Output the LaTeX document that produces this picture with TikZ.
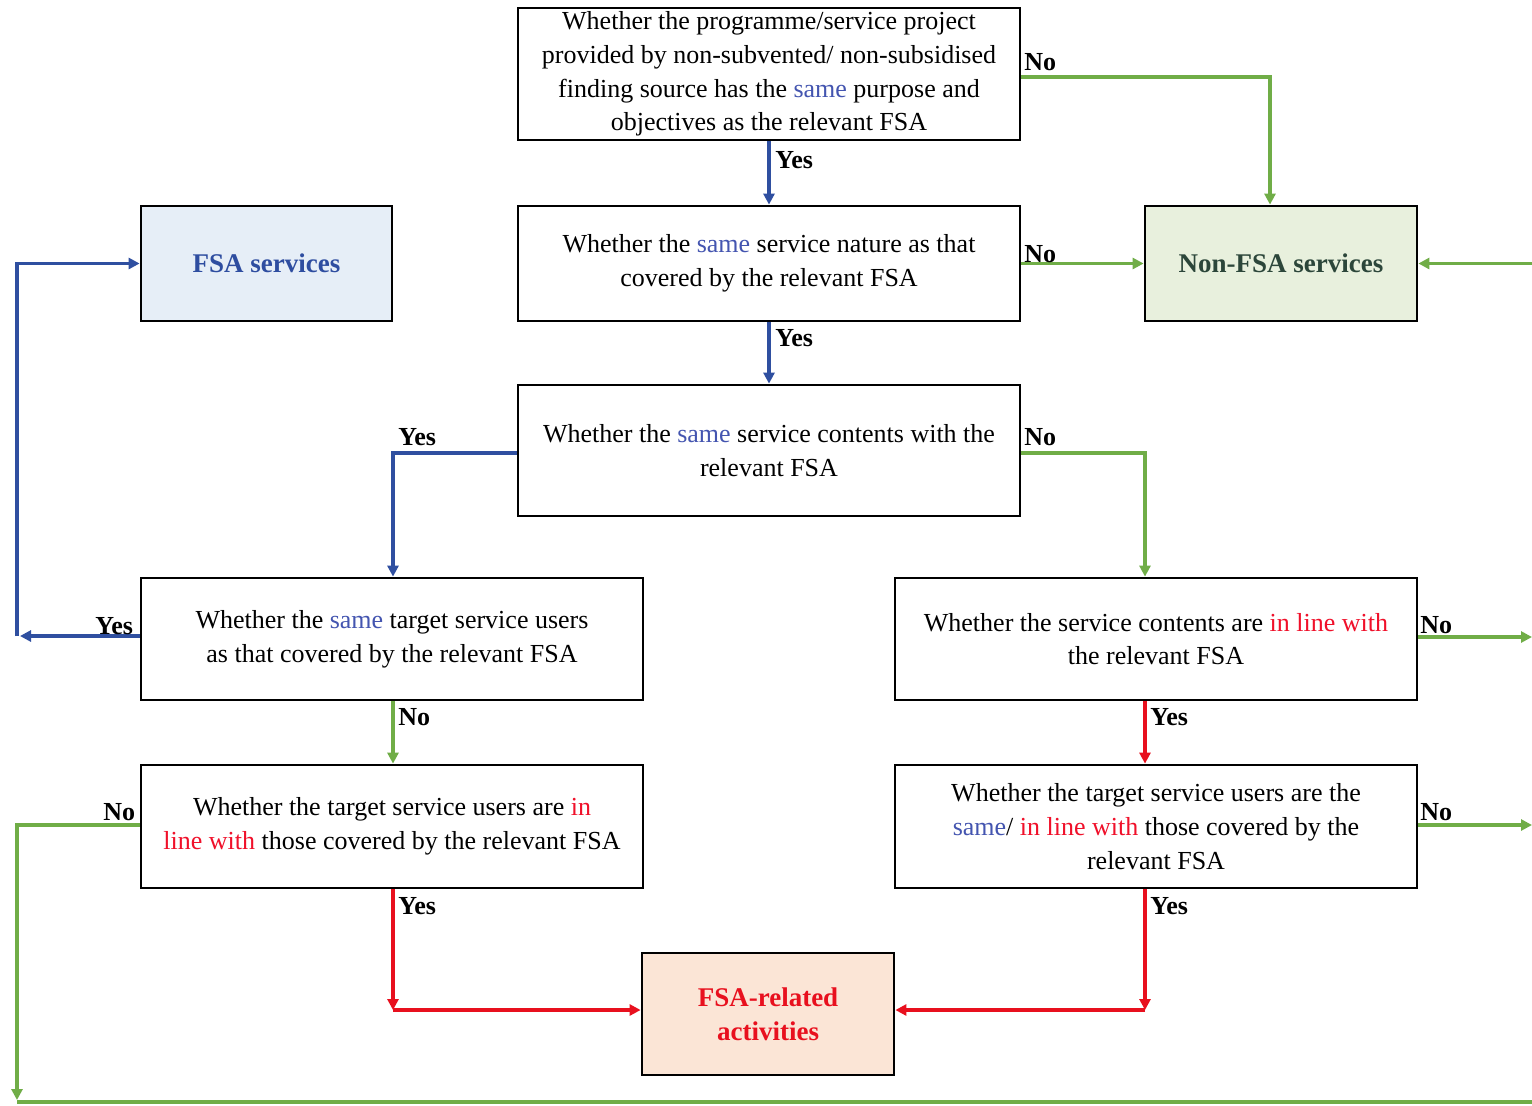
\documentclass[tikz,border=0pt]{standalone}
\usepackage{fontspec}
\setmainfont{Liberation Serif}
\usetikzlibrary{arrows.meta,calc}
\definecolor{lnblue}{HTML}{2F4FA0}
\definecolor{lngreen}{HTML}{70AD47}
\definecolor{lnred}{HTML}{E8101E}
\definecolor{txblue}{HTML}{4455B0}
\definecolor{txred}{HTML}{F0102A}
\definecolor{fsafill}{HTML}{E6EEF7}
\definecolor{fsatext}{HTML}{2E4DA0}
\definecolor{nonfill}{HTML}{E8F0DD}
\definecolor{nontext}{HTML}{2C463A}
\definecolor{relfill}{HTML}{FBE5D6}
\newcommand{\sm}[1]{\textcolor{txblue}{#1}}
\newcommand{\il}[1]{\textcolor{txred}{#1}}
\begin{document}
\begin{tikzpicture}[x=0.5pt,y=-0.5pt,
  qbox/.style={draw=black,line width=1.4pt,align=center,inner sep=2pt,
    font=\fontsize{13}{16.8}\selectfont},
  endbox/.style={qbox,font=\fontsize{13.5}{17}\selectfont\bfseries},
  conn/.style={line width=1.6pt,-{Triangle[length=5.5pt,width=5.5pt]}},
  plain/.style={line width=1.6pt},
  lab/.style={font=\fontsize{13}{14}\selectfont\bfseries,inner sep=0pt,anchor=west}]
\useasboundingbox (0,0) rectangle (1532,1105);
\fill[white] (0,0) rectangle (1532,1105);
% boxes
\node[qbox,minimum width=251pt,minimum height=66pt,inner sep=1pt] (b1) at (769,74)
  {Whether the programme/service project\\ provided by non-subvented/ non-subsidised\\ finding source has the \sm{same} purpose and\\ objectives as the relevant FSA};
\node[qbox,minimum width=251pt,minimum height=57.5pt] (b2) at (769,263.5)
  {Whether the \sm{same} service nature as that\\ covered by the relevant FSA};
\node[qbox,minimum width=251pt,minimum height=65.5pt] (b3) at (769,450.5)
  {Whether the \sm{same} service contents with the\\ relevant FSA};
\node[endbox,fill=fsafill,text=fsatext,minimum width=125.5pt,minimum height=57.5pt] (fsa) at (266.5,263.5)
  {FSA services};
\node[endbox,fill=nonfill,text=nontext,minimum width=136pt,minimum height=57.5pt] (non) at (1281,263.5)
  {Non-FSA services};
\node[qbox,minimum width=251pt,minimum height=61pt] (b4) at (392,639)
  {Whether the \sm{same} target service users\\ as that covered by the relevant FSA};
\node[qbox,minimum width=261pt,minimum height=61pt] (b5) at (1156,639)
  {Whether the service contents are \il{in line with}\\ the relevant FSA};
\node[qbox,minimum width=251pt,minimum height=61.5pt] (b6) at (392,826.5)
  {Whether the target service users are \il{in}\\ \il{line with} those covered by the relevant FSA};
\node[qbox,minimum width=261pt,minimum height=61.5pt] (b7) at (1156,826.5)
  {Whether the target service users are the\\ \sm{same}/ \il{in line with} those covered by the\\ relevant FSA};
\node[endbox,fill=relfill,text=lnred,minimum width=126pt,minimum height=61pt] (rel) at (768,1014)
  {FSA-related\\ activities};
% coordinates
\coordinate (c1r) at (1270,77);
\coordinate (c3l) at (393,453);
\coordinate (c3r) at (1145,453);
\coordinate (c4l) at (20,636);
\coordinate (c4v) at (17,636);
\coordinate (e5) at (1532,637);
\coordinate (e7) at (1532,825);
\coordinate (en) at (1532,265);
\coordinate (c6l) at (17,825);
\coordinate (c6b) at (17,1100);
\coordinate (bl) at (17,1102);
\coordinate (br) at (1532,1102);
\coordinate (d6) at (393,1010);
\coordinate (d7) at (1145,1010);
% connectors
\draw[conn,lnblue] (b1.south) -- (b2.north);
\draw[conn,lnblue] (b2.south) -- (b3.north);
\draw[conn,lngreen] (b1.east |- c1r) -- (c1r) -- (c1r |- non.north);
\draw[conn,lngreen] (b2.east |- non.west) -- (non.west);
\draw[conn,lngreen] (en |- non.east) -- (non.east);
\draw[conn,lnblue] (b3.west |- c3l) -- (c3l) -- (c3l |- b4.north);
\draw[conn,lngreen] (b3.east |- c3r) -- (c3r) -- (c3r |- b5.north);
\draw[conn,lnblue] (b4.west |- c4l) -- (c4l);
\draw[conn,lnblue] (c4v) |- (fsa.west);
\draw[conn,lngreen] (b4.south -| c3l) -- (b6.north -| c3l);
\draw[conn,lnred] (b5.south -| c3r) -- (b7.north -| c3r);
\draw[conn,lngreen] (b5.east |- e5) -- (e5);
\draw[conn,lngreen] (b7.east |- e7) -- (e7);
\draw[conn,lngreen] (b6.west |- c6l) -- (c6l) -- (c6b);
\draw[plain,lngreen] (bl) -- (br);
\draw[conn,lnred] (b6.south -| d6) -- (d6);
\draw[conn,lnred] (d6) -- (rel.west |- d6);
\draw[conn,lnred] (b7.south -| d7) -- (d7);
\draw[conn,lnred] (d7) -- (rel.east |- d7);
% labels
\node[lab] (l1) at (775,160) {Yes};
\node[lab] (l2) at (1024,62) {No};
\node[lab] (l3) at (1024,254) {No};
\node[lab] (l4) at (775,338) {Yes};
\node[lab] (l5) at (398,437) {Yes};
\node[lab] (l6) at (1024,437) {No};
\node[lab] (l7) at (95,626) {Yes};
\node[lab] (l8) at (398,717) {No};
\node[lab] (l9) at (1150,717) {Yes};
\node[lab] (l10) at (1420,625) {No};
\node[lab] (l11) at (103,812) {No};
\node[lab] (l12) at (1420,812) {No};
\node[lab] (l13) at (398,906) {Yes};
\node[lab] (l14) at (1150,906) {Yes};
\end{tikzpicture}
\end{document}
